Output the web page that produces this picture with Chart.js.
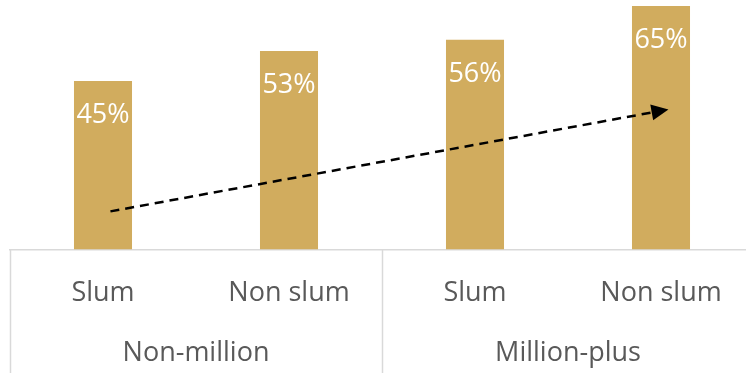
<!DOCTYPE html>
<html>
<head>
<meta charset="utf-8">
<script src="https://cdn.jsdelivr.net/npm/chart.js@4/dist/chart.umd.min.js"></script>
<style>
  html, body { margin: 0; padding: 0; background: #fff; overflow: hidden; }
  #wrap { position: relative; width: 800px; height: 373px; }
</style>
</head>
<body>
<div id="wrap"><canvas id="chart"></canvas></div>
<script>
// Share of households, by settlement type within city size class
const categories = ['Slum', 'Non slum', 'Slum', 'Non slum'];
const groups = ['Non-million', 'Million-plus'];
const shares = [45, 53, 56, 65];

// Trend arrow ends, in (category index, percent) units
const arrowFrom = [0.04, 10.2];
const arrowTo = [3.04, 37.4];

const barColor = '#D1AC5E';
const textGray = '#595959';
const lineGray = '#D9D9D9';
const font = "'Open Sans', sans-serif";

// Percent labels just inside the top of each bar
const barLabels = {
  id: 'barLabels',
  afterDatasetsDraw(chart) {
    const ctx = chart.ctx;
    const meta = chart.getDatasetMeta(0);
    ctx.save();
    ctx.fillStyle = '#ffffff';
    ctx.font = `27px ${font}`;
    ctx.textAlign = 'center';
    ctx.textBaseline = 'alphabetic';
    meta.data.forEach((bar, i) => {
      ctx.fillText(shares[i] + '%', bar.x, bar.y + 42);
    });
    ctx.restore();
  }
};

// Vertical separators below the axis and the dashed trend arrow
const extras = {
  id: 'extras',
  afterDraw(chart) {
    const ctx = chart.ctx;
    const x = chart.scales.x;
    const y = chart.scales.y;
    const area = chart.chartArea;

    ctx.save();
    ctx.strokeStyle = lineGray;
    ctx.lineWidth = 1.5;
    [area.left, x.getPixelForValue(1.5), area.right].forEach(px => {
      ctx.beginPath();
      ctx.moveTo(Math.round(px) + 0.5, area.bottom);
      ctx.lineTo(Math.round(px) + 0.5, chart.height);
      ctx.stroke();
    });

    const x0 = x.getPixelForValue(arrowFrom[0]);
    const y0 = y.getPixelForValue(arrowFrom[1]);
    const x1 = x.getPixelForValue(arrowTo[0]);
    const y1 = y.getPixelForValue(arrowTo[1]);
    const ang = Math.atan2(y1 - y0, x1 - x0);
    const head = 17;
    const bx = x1 - head * Math.cos(ang);
    const by = y1 - head * Math.sin(ang);

    ctx.strokeStyle = '#000';
    ctx.lineWidth = 2.5;
    ctx.setLineDash([9, 6]);
    ctx.beginPath();
    ctx.moveTo(x0, y0);
    ctx.lineTo(bx, by);
    ctx.stroke();

    ctx.setLineDash([]);
    ctx.fillStyle = '#000';
    ctx.beginPath();
    ctx.moveTo(x1, y1);
    ctx.lineTo(bx + 8 * Math.sin(ang), by - 8 * Math.cos(ang));
    ctx.lineTo(bx - 8 * Math.sin(ang), by + 8 * Math.cos(ang));
    ctx.closePath();
    ctx.fill();
    ctx.restore();
  }
};

new Chart(document.getElementById('chart'), {
  type: 'bar',
  data: {
    labels: categories,
    datasets: [{
      data: shares,
      backgroundColor: barColor,
      borderWidth: 0,
      categoryPercentage: 1,
      barPercentage: 0.312
    }]
  },
  options: {
    responsive: true,
    maintainAspectRatio: false,
    animation: false,
    events: [],
    layout: { padding: { left: 10, right: 46, top: 6, bottom: 2 } },
    plugins: {
      legend: { display: false },
      tooltip: { enabled: false }
    },
    scales: {
      y: { display: false, min: 0, max: 65 },
      x: {
        position: 'bottom',
        grid: { display: false, drawTicks: false },
        border: { display: true, color: lineGray, width: 1.5 },
        ticks: {
          color: textGray,
          font: { family: font, size: 27, lineHeight: 1 },
          padding: 30,
          maxRotation: 0,
          autoSkip: false
        }
      },
      x2: {
        type: 'category',
        labels: groups,
        position: 'bottom',
        offset: true,
        grid: { display: false, drawTicks: false },
        border: { display: false },
        ticks: {
          color: textGray,
          font: { family: font, size: 27 },
          padding: 1,
          maxRotation: 0,
          autoSkip: false
        }
      }
    }
  },
  plugins: [barLabels, extras]
});
</script>
</body>
</html>
